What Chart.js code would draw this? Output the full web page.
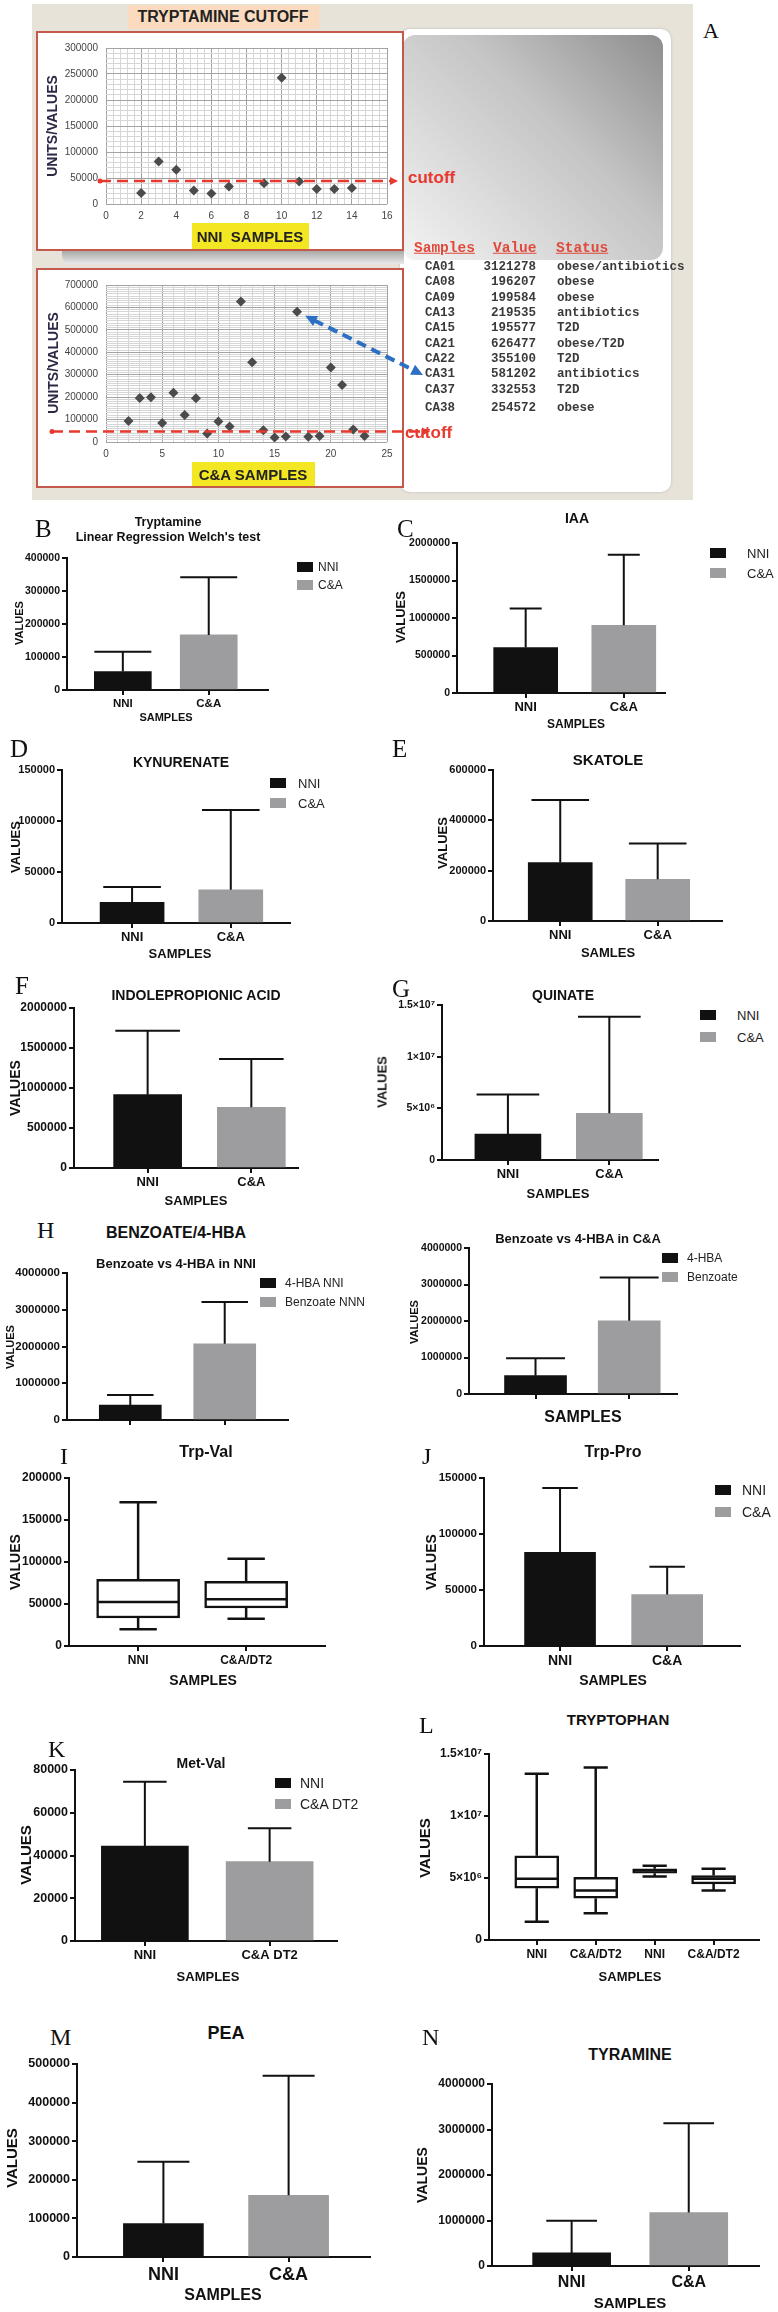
<!DOCTYPE html>
<html>
<head>
<meta charset="utf-8">
<title>Tryptamine cutoff and metabolites</title>
<script src="https://cdn.jsdelivr.net/npm/chart.js@4.4.1/dist/chart.umd.min.js"></script>
<style>
  body { margin: 0; width: 778px; height: 2312px; position: relative; background: #fff; overflow: hidden;
         font-family: 'Liberation Sans', Arial, sans-serif; }
  .blk { position: absolute; }
  .t { position: absolute; white-space: nowrap; font-weight: bold; color: #111; line-height: 1; transform: translate(-50%, -50%); }
  .v { transform: translate(-50%, -50%) rotate(-90deg); }
  .p { font-family: 'Liberation Serif', 'Times New Roman', serif; font-weight: normal; transform: translate(0, -50%); }
  .n { font-weight: normal; color: #222; transform: translate(0, -50%); }
  .sw { position: absolute; width: 16px; height: 10px; transform: translateY(-50%); }
  .mono { position: absolute; font-family: 'Liberation Mono', 'Courier New', monospace; font-weight: bold; font-size: 12.5px;
          color: #3a3a3a; line-height: 1; transform: translateY(-50%); white-space: pre; }
  .r { transform: translate(-100%, -50%); }
  canvas { position: absolute; }
</style>
</head>
<body>
<!-- Panel A Hintergrund -->
<div class="blk" style="left:32px;top:4px;width:661px;height:496px;background:#e7e3d9;"></div>
<div class="blk" style="left:128px;top:5px;width:191px;height:24px;background:#fbdbbf;"></div>
<div class="blk" style="left:400px;top:29px;width:271px;height:463px;background:#fff;border-radius:10px;box-shadow:0 0 3px #bbb;"></div>
<div class="blk" style="left:403px;top:35px;width:260px;height:225px;border-radius:12px;background:linear-gradient(225deg,#8e8e8e 0%,#c4c4c4 40%,#f3f3f3 100%);"></div>
<div class="blk" style="left:62px;top:251px;width:342px;height:13px;background:linear-gradient(to bottom,#a9a9a9,#e9e9e9);border-radius:0 0 0 8px;"></div>
<div class="blk" style="left:36px;top:31px;width:364px;height:216px;background:#fff;border:2px solid #c4584a;"></div>
<div class="blk" style="left:36px;top:268px;width:364px;height:216px;background:#fff;border:2px solid #c4584a;"></div>
<div class="blk" style="left:192px;top:223px;width:117px;height:26px;background:#f3e724;"></div>
<div class="blk" style="left:192px;top:462px;width:123px;height:24px;background:#f3e724;"></div>

<script>
// ---------- Daten: Panel A (Tryptamin-Cutoff) ----------
const nniSample = [2, 3, 4, 5, 6, 7, 9, 10, 11, 12, 13, 14];
const nniTryptamine = [21000, 81500, 66000, 26000, 20000, 33500, 40000, 243000, 43500, 29000, 29000, 31000];
const caSample = [2, 3, 4, 5, 6, 7, 8, 9, 10, 11, 12, 13, 14, 15, 16, 17, 18, 19, 20, 21, 22, 23];
const caTryptamine = [94000, 196207, 199584, 85000, 219535, 120000, 195577, 37500, 91000, 69000, 626477,
                      355100, 52000, 20000, 24500, 581202, 23000, 27000, 332553, 254572, 56000, 27000];
const nniCutoff = 44000;
const caCutoff = 47000;
const tableSamples = ['CA01', 'CA08', 'CA09', 'CA13', 'CA15', 'CA21', 'CA22', 'CA31', 'CA37', 'CA38'];
const tableValues = ['3121278', '196207', '199584', '219535', '195577', '626477', '355100', '581202', '332553', '254572'];
const tableStatus = ['obese/antibiotics', 'obese', 'obese', 'antibiotics', 'T2D', 'obese/T2D', 'T2D', 'antibiotics', 'T2D', 'obese'];

// ---------- Daten: Balken (Mittelwert und Mittelwert+SD) ----------
const groups = ['NNI', 'C&A'];
const tryptamineMean = [55700, 167000];
const tryptamineTop = [116000, 342000];
const iaaMean = [606000, 903000];
const iaaTop = [1128000, 1845000];
const kynurenateMean = [20200, 32600];
const kynurenateTop = [35200, 110900];
const skatoleMean = [232000, 165600];
const skatoleTop = [481000, 308000];
const ipaMean = [917000, 758000];
const ipaTop = [1717000, 1362000];
const quinateMean = [2520000, 4520000];
const quinateTop = [6350000, 13870000];
const quinateTicks = ['0', '5×10⁶', '1×10⁷', '1.5×10⁷'];
const benzNniGroups = ['4-HBA NNI', 'Benzoate NNN'];
const benzNniMean = [409000, 2073000];
const benzNniTop = [682000, 3209000];
const benzCaGroups = ['4-HBA', 'Benzoate'];
const benzCaMean = [503000, 2005000];
const benzCaTop = [979000, 3195000];
const trpProMean = [83700, 46000];
const trpProTop = [141000, 70800];
const metValGroups = ['NNI', 'C&A DT2'];
const metValMean = [44400, 37100];
const metValTop = [74500, 52700];
const peaMean = [86500, 160000];
const peaTop = [246500, 469700];
const tyramineMean = [287000, 1176000];
const tyramineTop = [993000, 3140000];

// ---------- Daten: Boxplots ----------
const trpValGroups = ['NNI', 'C&A/DT2'];
const trpValMin = [19800, 32500];
const trpValQ1 = [33300, 45200];
const trpValMed = [52400, 55600];
const trpValQ3 = [79400, 77000];
const trpValMax = [171000, 104000];
const trpGroups = ['NNI', 'C&A/DT2', 'NNI', 'C&A/DT2'];
const trpMin = [1480000, 2150000, 5120000, 3990000];
const trpQ1 = [4170000, 3370000, 5390000, 4520000];
const trpMed = [4930000, 3990000, 5600000, 4930000];
const trpQ3 = [6790000, 5060000, 5740000, 5200000];
const trpMax = [13410000, 13920000, 5980000, 5740000];
const trpTicks = ['0', '5×10⁶', '1×10⁷', '1.5×10⁷'];

const BLACK = '#111111', GREY = '#9d9da0';

Chart.defaults.font.family = "'Liberation Sans', Arial, sans-serif";
Chart.defaults.color = '#111';
Chart.defaults.animation = false;

function canvasAt(x, y, w, h) {
  const c = document.createElement('canvas');
  c.width = w; c.height = h;
  c.style.left = x + 'px'; c.style.top = y + 'px';
  c.style.width = w + 'px'; c.style.height = h + 'px';
  document.body.appendChild(c);
  return c;
}

function txt(s, x, y, size, cls, color) {
  const d = document.createElement('div');
  d.className = 't' + (cls ? ' ' + cls : '');
  d.textContent = s;
  d.style.left = x + 'px'; d.style.top = y + 'px'; d.style.fontSize = size + 'px';
  if (color) d.style.color = color;
  document.body.appendChild(d);
  return d;
}

function legend(sx, tx, ys, names, colors, size) {
  names.forEach((n, i) => {
    const s = document.createElement('div');
    s.className = 'sw';
    s.style.left = sx + 'px'; s.style.top = ys[i] + 'px'; s.style.background = colors[i];
    document.body.appendChild(s);
    txt(n, tx, ys[i], size, 'n');
  });
}

// Fehlerbalken nur nach oben (Prism "mean with SD")
function errorBars(tops, capFrac) {
  return {
    id: 'errbars',
    afterDatasetsDraw(chart) {
      const ctx = chart.ctx, ys = chart.scales.y;
      chart.getDatasetMeta(0).data.forEach((b, i) => {
        const yt = ys.getPixelForValue(tops[i]);
        const half = b.width * capFrac / 2;
        ctx.save();
        ctx.strokeStyle = '#111'; ctx.lineWidth = 2;
        ctx.beginPath();
        ctx.moveTo(b.x, b.y); ctx.lineTo(b.x, yt);
        ctx.moveTo(b.x - half, yt); ctx.lineTo(b.x + half, yt);
        ctx.stroke();
        ctx.restore();
      });
    }
  };
}

// Whisker + Median fuer die Boxplots
function whiskers(mins, meds, maxs, capFrac) {
  return {
    id: 'whiskers',
    afterDatasetsDraw(chart) {
      const ctx = chart.ctx, ys = chart.scales.y;
      chart.getDatasetMeta(0).data.forEach((b, i) => {
        const half = b.width / 2, cap = b.width * capFrac / 2;
        const top = Math.min(b.y, b.base), bot = Math.max(b.y, b.base);
        const yMin = ys.getPixelForValue(mins[i]), yMax = ys.getPixelForValue(maxs[i]), yMed = ys.getPixelForValue(meds[i]);
        ctx.save();
        ctx.strokeStyle = '#111'; ctx.lineWidth = 2.5;
        ctx.beginPath();
        ctx.moveTo(b.x, top); ctx.lineTo(b.x, yMax);
        ctx.moveTo(b.x - cap, yMax); ctx.lineTo(b.x + cap, yMax);
        ctx.moveTo(b.x, bot); ctx.lineTo(b.x, yMin);
        ctx.moveTo(b.x - cap, yMin); ctx.lineTo(b.x + cap, yMin);
        ctx.moveTo(b.x - half + 1, yMed); ctx.lineTo(b.x + half - 1, yMed);
        ctx.stroke();
        ctx.restore();
      });
    }
  };
}

// ein Prism-artiges Panel (Balken oder Boxplot)
function prism(o) {
  const padL = 80, padT = 14, padR = 14, padB = 46;
  const left = o.L - padL, top = o.T - padT;
  const cv = canvasAt(left, top, o.R - left + padR, o.B - top + padB);
  const isBox = !!o.q1;
  const data = isBox ? o.q1.map((v, i) => ({ x: i, y: [v, o.q3[i]] }))
                     : o.mean.map((v, i) => ({ x: i, y: v }));
  const axisGrid = { display: true, drawOnChartArea: false, drawTicks: true, tickLength: 5, color: '#111', lineWidth: 2, offset: false };
  const axisBorder = { display: true, color: '#111', width: 2 };
  return new Chart(cv, {
    type: 'bar',
    data: {
      datasets: [isBox
        ? { data, backgroundColor: '#fff', borderColor: '#111', borderWidth: 2.5, borderSkipped: false, barThickness: o.barW }
        : { data, backgroundColor: o.colors || [BLACK, GREY], borderWidth: 0, barThickness: o.barW }]
    },
    options: {
      responsive: false, animation: false, devicePixelRatio: 1,
      layout: { padding: { top: padT, right: padR, left: 0, bottom: 0 }, autoPadding: false },
      plugins: { legend: { display: false }, tooltip: { enabled: false } },
      scales: {
        x: {
          type: 'linear', min: o.xr[0], max: o.xr[1], offset: false,
          afterFit: s => { s.height = padB; },
          afterBuildTicks: s => { s.ticks = o.cats.map((c, i) => ({ value: i })); },
          ticks: {
            autoSkip: false, maxRotation: 0, padding: 2, color: '#111',
            font: { size: o.fCat || 13, weight: 'bold' },
            callback: v => o.noCat ? '' : o.cats[v]
          },
          grid: axisGrid, border: axisBorder
        },
        y: {
          min: 0, max: o.ymax,
          afterFit: s => { s.width = padL; },
          ticks: {
            stepSize: o.ystep, autoSkip: false, padding: 2, color: '#111',
            font: { size: o.fTick || 11, weight: 'bold' },
            callback: v => o.yLabels ? o.yLabels[Math.round(v / o.ystep)] : String(v)
          },
          grid: axisGrid, border: axisBorder
        }
      }
    },
    plugins: [isBox ? whiskers(o.min, o.med, o.max, o.cap) : errorBars(o.top, o.cap)]
  });
}

// rote gestrichelte Cutoff-Linie
function cutoffLine(value, ext) {
  return {
    id: 'cutoff',
    afterDatasetsDraw(chart) {
      const ctx = chart.ctx, a = chart.chartArea;
      const y = chart.scales.y.getPixelForValue(value);
      const x0 = a.left - ext, x1 = chart.width - 2;
      ctx.save();
      ctx.strokeStyle = '#e8392f'; ctx.fillStyle = '#e8392f'; ctx.lineWidth = 2.5;
      ctx.setLineDash([11, 6]);
      ctx.beginPath(); ctx.moveTo(x0, y); ctx.lineTo(x1 - 6, y); ctx.stroke();
      ctx.setLineDash([]);
      ctx.beginPath(); ctx.moveTo(x1, y); ctx.lineTo(x1 - 8, y - 4); ctx.lineTo(x1 - 8, y + 4); ctx.closePath(); ctx.fill();
      ctx.beginPath(); ctx.arc(x0, y, 2.5, 0, 2 * Math.PI); ctx.fill();
      ctx.restore();
    }
  };
}

// blauer Doppelpfeil vom Punkt zur Tabellenzeile
function blueArrow(idx, ax, ay) {
  function head(ctx, x, y, ang) {
    ctx.beginPath();
    ctx.moveTo(x, y);
    ctx.lineTo(x - 13 * Math.cos(ang - 0.45), y - 13 * Math.sin(ang - 0.45));
    ctx.lineTo(x - 13 * Math.cos(ang + 0.45), y - 13 * Math.sin(ang + 0.45));
    ctx.closePath(); ctx.fill();
  }
  return {
    id: 'bluearrow',
    afterDatasetsDraw(chart) {
      const p = chart.getDatasetMeta(0).data[idx];
      const ctx = chart.ctx;
      const ang = Math.atan2(ay - p.y, ax - p.x);
      const sx = p.x + 9 * Math.cos(ang), sy = p.y + 9 * Math.sin(ang);
      ctx.save();
      ctx.strokeStyle = '#2d6fc2'; ctx.fillStyle = '#2d6fc2'; ctx.lineWidth = 4;
      ctx.setLineDash([10, 6]);
      ctx.beginPath();
      ctx.moveTo(sx + 10 * Math.cos(ang), sy + 10 * Math.sin(ang));
      ctx.lineTo(ax - 10 * Math.cos(ang), ay - 10 * Math.sin(ang));
      ctx.stroke();
      ctx.setLineDash([]);
      head(ctx, sx, sy, ang + Math.PI);
      head(ctx, ax, ay, ang);
      ctx.restore();
    }
  };
}

// Excel-artiges Streudiagramm mit feinem Raster
function gridChart(o, xs, ys, extra) {
  const cv = canvasAt(o.cx, o.cy, o.cw, o.ch);
  const major = (v, m) => { const r = Math.round(v); return Math.abs(v - r) < 1e-6 && r % m === 0; };
  new Chart(cv, {
    type: 'scatter',
    data: {
      datasets: [{
        data: xs.map((x, i) => ({ x, y: ys[i] })),
        pointStyle: 'rectRot', pointRadius: 5, backgroundColor: '#4b4b4b', borderWidth: 0
      }]
    },
    options: {
      responsive: false, animation: false, devicePixelRatio: 1,
      layout: { padding: { top: o.T - o.cy, right: o.cx + o.cw - o.R, left: 0, bottom: 0 }, autoPadding: false },
      plugins: { legend: { display: false }, tooltip: { enabled: false } },
      scales: {
        x: {
          type: 'linear', min: 0, max: o.xmax,
          afterFit: s => { s.height = o.cy + o.ch - o.B; },
          ticks: {
            stepSize: o.xstep, autoSkip: false, maxRotation: 0, padding: 6, color: '#444', font: { size: 10 },
            callback: v => major(v, o.xmaj) ? String(Math.round(v)) : ''
          },
          grid: { color: c => major(c.tick.value, o.xmaj) ? '#a3a3a3' : '#d6d6d6', lineWidth: 1, drawTicks: false },
          border: { display: false }
        },
        y: {
          min: 0, max: o.ymax,
          afterFit: s => { s.width = o.L - o.cx; },
          ticks: {
            stepSize: o.ystep, autoSkip: false, padding: 8, color: '#444', font: { size: 10 },
            callback: v => major(v, o.ymaj) ? String(Math.round(v)) : ''
          },
          grid: { color: c => major(c.tick.value, o.ymaj) ? '#a3a3a3' : '#d6d6d6', lineWidth: 1, drawTicks: false },
          border: { display: false }
        }
      }
    },
    plugins: extra
  });
}

// ---------- Panel A ----------
gridChart({ cx: 40, cy: 34, cw: 360, ch: 214, L: 106, R: 387, T: 43, B: 204,
            xmax: 16, xstep: 0.4, xmaj: 2, ymax: 300000, ystep: 10000, ymaj: 50000 },
          nniSample, nniTryptamine, [cutoffLine(nniCutoff, 6)]);
gridChart({ cx: 40, cy: 271, cw: 392, ch: 212, L: 106, R: 387, T: 280, B: 442,
            xmax: 25, xstep: 1, xmaj: 5, ymax: 700000, ystep: 10000, ymaj: 100000 },
          caSample, caTryptamine, [cutoffLine(caCutoff, 54), blueArrow(caSample.indexOf(17), 383, 104)]);

txt('TRYPTAMINE CUTOFF', 223, 17, 16, '', '#222');
txt('UNITS/VALUES', 52, 126, 14, 'v', '#2b2846');
txt('UNITS/VALUES', 53, 363, 14, 'v', '#2b2846');
txt('NNI  SAMPLES', 250, 236, 15, '', '#222').style.whiteSpace = 'pre';
txt('C&A SAMPLES', 253, 474, 15, '', '#222');
txt('cutoff', 408, 177, 17, 'n', '#e8392f').style.fontWeight = 'bold';
txt('cutoff', 405, 432, 17, 'n', '#e8392f').style.fontWeight = 'bold';
txt('A', 703, 31, 22, 'p');

// Tabelle
[['Samples', 414], ['Value', 493], ['Status', 556]].forEach(([h, x]) => {
  const d = txt(h, x, 248, 14.5, 'mono');
  d.className = 'mono';
  d.style.color = '#e04a3a'; d.style.textDecoration = 'underline'; d.style.fontSize = '14.5px';
});
tableSamples.forEach((s, i) => {
  const y = 267 + i * 15.35 + (i === 9 ? 3 : 0);
  const a = txt(s, 425, y, 12.5); a.className = 'mono';
  const b = txt(tableValues[i], 536, y, 12.5); b.className = 'mono r';
  const c = txt(tableStatus[i], 557, y, 12.5); c.className = 'mono';
});

// ---------- Panels B - N ----------
prism({ L: 67, R: 268, T: 558, B: 690, xr: [-0.65, 1.69], cats: groups, mean: tryptamineMean, top: tryptamineTop,
        barW: 57, cap: 1.0, ymax: 400000, ystep: 100000, fTick: 10.5, fCat: 11.5 });
prism({ L: 457, R: 665, T: 543, B: 693, xr: [-0.70, 1.42], cats: groups, mean: iaaMean, top: iaaTop,
        barW: 64, cap: 0.5, ymax: 2000000, ystep: 500000, fTick: 10.5, fCat: 13 });
prism({ L: 62, R: 290, T: 770, B: 923, xr: [-0.71, 1.60], cats: groups, mean: kynurenateMean, top: kynurenateTop,
        barW: 64, cap: 0.9, ymax: 150000, ystep: 50000, fTick: 11, fCat: 13 });
prism({ L: 493, R: 722, T: 770, B: 921, xr: [-0.69, 1.66], cats: groups, mean: skatoleMean, top: skatoleTop,
        barW: 64, cap: 0.9, ymax: 600000, ystep: 200000, fTick: 11, fCat: 13 });
prism({ L: 74, R: 298, T: 1008, B: 1168, xr: [-0.71, 1.45], cats: groups, mean: ipaMean, top: ipaTop,
        barW: 68, cap: 0.95, ymax: 2000000, ystep: 500000, fTick: 12, fCat: 13 });
prism({ L: 442, R: 658, T: 1005, B: 1160, xr: [-0.65, 1.48], cats: groups, mean: quinateMean, top: quinateTop,
        barW: 66, cap: 0.95, ymax: 15000000, ystep: 5000000, yLabels: quinateTicks, fTick: 10.5, fCat: 13 });
prism({ L: 67, R: 288, T: 1273, B: 1420, xr: [-0.67, 1.67], cats: benzNniGroups, mean: benzNniMean, top: benzNniTop,
        barW: 62, cap: 0.75, ymax: 4000000, ystep: 1000000, fTick: 11.5, noCat: true });
prism({ L: 469, R: 677, T: 1248, B: 1394, xr: [-0.71, 1.51], cats: benzCaGroups, mean: benzCaMean, top: benzCaTop,
        barW: 62, cap: 0.95, ymax: 4000000, ystep: 1000000, fTick: 10.5, noCat: true });
prism({ L: 69, R: 325, T: 1478, B: 1646, xr: [-0.64, 1.73], cats: trpValGroups,
        min: trpValMin, q1: trpValQ1, med: trpValMed, q3: trpValQ3, max: trpValMax,
        barW: 83, cap: 0.45, ymax: 200000, ystep: 50000, fTick: 12, fCat: 12 });
prism({ L: 484, R: 740, T: 1478, B: 1646, xr: [-0.71, 1.68], cats: groups, mean: trpProMean, top: trpProTop,
        barW: 71, cap: 0.5, ymax: 150000, ystep: 50000, fTick: 11.5, fCat: 14 });
prism({ L: 75, R: 337, T: 1770, B: 1941, xr: [-0.56, 1.54], cats: metValGroups, mean: metValMean, top: metValTop,
        barW: 87, cap: 0.5, ymax: 80000, ystep: 20000, fTick: 12.5, fCat: 13 });
prism({ L: 489, R: 759, T: 1754, B: 1940, xr: [-0.81, 3.77], cats: trpGroups,
        min: trpMin, q1: trpQ1, med: trpMed, q3: trpQ3, max: trpMax,
        barW: 44, cap: 0.55, ymax: 15000000, ystep: 5000000, yLabels: trpTicks, fTick: 12, fCat: 12 });
prism({ L: 77, R: 370, T: 2064, B: 2257, xr: [-0.69, 1.65], cats: groups, mean: peaMean, top: peaTop,
        barW: 80, cap: 0.65, ymax: 500000, ystep: 100000, fTick: 12.5, fCat: 18 });
prism({ L: 492, R: 759, T: 2084, B: 2266, xr: [-0.68, 1.60], cats: groups, mean: tyramineMean, top: tyramineTop,
        barW: 78, cap: 0.65, ymax: 4000000, ystep: 1000000, fTick: 12, fCat: 16 });

// Beschriftungen: [Text, x, y, Groesse, Klasse]
const labels = [
  ['B', 35, 528, 25, 'p'], ['Tryptamine', 168, 522, 12.5], ["Linear Regression Welch's test", 168, 537, 12.5],
  ['SAMPLES', 166, 717, 11], ['VALUES', 19, 623, 11, 'v'],
  ['C', 397, 528, 25, 'p'], ['IAA', 577, 518, 14], ['SAMPLES', 576, 724, 12], ['VALUES', 400, 617, 13, 'v'],
  ['D', 10, 748, 25, 'p'], ['KYNURENATE', 181, 762, 14], ['SAMPLES', 180, 953, 13], ['VALUES', 15, 847, 13, 'v'],
  ['E', 392, 748, 25, 'p'], ['SKATOLE', 608, 759, 15], ['SAMLES', 608, 952, 13], ['VALUES', 442, 843, 13, 'v'],
  ['F', 15, 985, 25, 'p'], ['INDOLEPROPIONIC ACID', 196, 995, 14], ['SAMPLES', 196, 1200, 13], ['VALUES', 15, 1088, 14, 'v'],
  ['G', 392, 988, 25, 'p'], ['QUINATE', 563, 995, 14], ['SAMPLES', 558, 1193, 13], ['VALUES', 382, 1082, 13, 'v'],
  ['H', 37, 1230, 24, 'p'], ['BENZOATE/4-HBA', 176, 1233, 16], ['Benzoate vs 4-HBA in NNI', 176, 1263, 13],
  ['VALUES', 10, 1347, 11, 'v'],
  ['Benzoate vs 4-HBA in C&A', 578, 1238, 13], ['SAMPLES', 583, 1417, 16], ['VALUES', 414, 1322, 11, 'v'],
  ['I', 60, 1456, 24, 'p'], ['Trp-Val', 206, 1452, 16], ['SAMPLES', 203, 1680, 14], ['VALUES', 15, 1562, 14, 'v'],
  ['J', 422, 1456, 24, 'p'], ['Trp-Pro', 613, 1452, 16], ['SAMPLES', 613, 1680, 14], ['VALUES', 431, 1562, 14, 'v'],
  ['K', 48, 1749, 24, 'p'], ['Met-Val', 201, 1763, 14], ['SAMPLES', 208, 1976, 13], ['VALUES', 25, 1855, 15, 'v'],
  ['L', 419, 1725, 24, 'p'], ['TRYPTOPHAN', 618, 1719, 15], ['SAMPLES', 630, 1976, 13], ['VALUES', 424, 1848, 15, 'v'],
  ['M', 50, 2037, 24, 'p'], ['PEA', 226, 2033, 18], ['SAMPLES', 223, 2295, 16], ['VALUES', 11, 2158, 15, 'v'],
  ['N', 422, 2037, 24, 'p'], ['TYRAMINE', 630, 2055, 16], ['SAMPLES', 630, 2302, 15], ['VALUES', 422, 2175, 14, 'v']
];
labels.forEach(([s, x, y, size, cls]) => txt(s, x, y, size, cls));

// Legenden
legend(297, 318, [567, 585], groups, [BLACK, GREY], 12);
legend(710, 747, [553, 573], groups, [BLACK, GREY], 13);
legend(270, 298, [783, 803], groups, [BLACK, GREY], 13);
legend(700, 737, [1015, 1037], groups, [BLACK, GREY], 13);
legend(260, 285, [1283, 1302], benzNniGroups, [BLACK, GREY], 12);
legend(662, 687, [1258, 1277], benzCaGroups, [BLACK, GREY], 12);
legend(715, 742, [1490, 1512], groups, [BLACK, GREY], 14);
legend(275, 300, [1783, 1804], metValGroups, [BLACK, GREY], 14);
</script>
</body>
</html>
